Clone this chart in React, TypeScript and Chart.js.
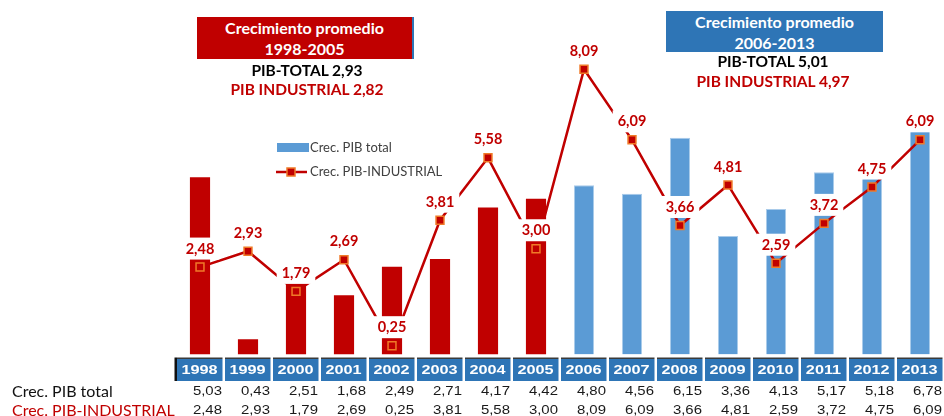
import React, { useEffect, useRef } from 'react';
import { Chart, registerables } from 'chart.js';

Chart.register(...registerables);

const years = ['1998', '1999', '2000', '2001', '2002', '2003', '2004', '2005', '2006', '2007', '2008', '2009', '2010', '2011', '2012', '2013'];
const pibTotal = [5.03, 0.43, 2.51, 1.68, 2.49, 2.71, 4.17, 4.42, 4.8, 4.56, 6.15, 3.36, 4.13, 5.17, 5.18, 6.78];
const pibIndustrial = [2.48, 2.93, 1.79, 2.69, 0.25, 3.81, 5.58, 3.0, 8.09, 6.09, 3.66, 4.81, 2.59, 3.72, 4.75, 6.09];
const seriesNames = ['Crec. PIB total', 'Crec. PIB-INDUSTRIAL'];
const periodRanges = ['1998-2005', '2006-2013'];
const periodTotal = ['2,93', '5,01'];
const periodIndustrial = ['2,82', '4,97'];
const firstBluePeriodIndex = 8;

const RED = '#C00000';
const BLUE = '#5B9BD5';
const AXIS_BLUE = '#2E75B6';
const ORANGE = '#F07A28';

const fmt = (v: number) => v.toFixed(2).replace('.', ',');

const overlayPlugin = {
  id: 'overlay',
  afterDatasetsDraw(chart: any) {
    const ctx = chart.ctx as CanvasRenderingContext2D;
    const meta = chart.getDatasetMeta(1);
    ctx.save();
    ctx.font = 'bold 14.5px Lato';
    ctx.textAlign = 'center';
    ctx.textBaseline = 'middle';
    meta.data.forEach((pt: any, i: number) => {
      const txt = fmt(pibIndustrial[i]);
      const w = ctx.measureText(txt).width + 10;
      const cy = pt.y - 18.5;
      ctx.fillStyle = '#ffffff';
      ctx.fillRect(pt.x - w / 2, cy - 11, w, 22);
      ctx.fillStyle = RED;
      ctx.fillText(txt, pt.x, cy + 0.5);
    });
    ctx.restore();
  },
  afterDraw(chart: any) {
    const ctx = chart.ctx as CanvasRenderingContext2D;
    const xs = chart.scales.x;
    ctx.save();
    // category axis boxes
    years.forEach((y, i) => {
      const cx = xs.getPixelForValue(i);
      const l = cx - 23;
      ctx.fillStyle = '#3a3a3a';
      ctx.fillRect(l, 357.5, 45.5, 1.5);
      ctx.fillStyle = AXIS_BLUE;
      ctx.fillRect(l, 359, 45.5, 22);
      ctx.save();
      ctx.translate(cx - 0.5, 370.5);
      ctx.scale(1.25, 1);
      ctx.font = 'bold 13px "Liberation Sans", Arial';
      ctx.fillStyle = '#ffffff';
      ctx.textAlign = 'center';
      ctx.textBaseline = 'middle';
      ctx.fillText(y, 0, 0);
      ctx.restore();
      if (i === 0) {
        ctx.fillStyle = '#111111';
        ctx.fillRect(l - 2.5, 357.5, 2.5, 23.5);
      }
    });
    // data table
    const rows = [pibTotal, pibIndustrial];
    const rowY = [391.5, 411];
    const rowColors = ['#111111', RED];
    rows.forEach((vals, r) => {
      ctx.font = '16px Lato';
      ctx.fillStyle = rowColors[r];
      ctx.textAlign = 'left';
      ctx.textBaseline = 'middle';
      ctx.fillText(seriesNames[r], 12, rowY[r]);
      vals.forEach((v, i) => {
        const cx = xs.getPixelForValue(i);
        ctx.save();
        ctx.translate(cx + 22, rowY[r] - 0.5);
        ctx.scale(1.15, 1);
        ctx.font = '13px "Liberation Sans", Arial';
        ctx.fillStyle = '#1a1a1a';
        ctx.textAlign = 'right';
        ctx.textBaseline = 'middle';
        ctx.fillText(fmt(v), 0, 0);
        ctx.restore();
      });
    });
    // legend
    ctx.fillStyle = BLUE;
    ctx.fillRect(277, 143, 32, 9);
    ctx.strokeStyle = RED;
    ctx.lineWidth = 2.5;
    ctx.beginPath();
    ctx.moveTo(276, 172);
    ctx.lineTo(307, 172);
    ctx.stroke();
    ctx.fillStyle = RED;
    ctx.fillRect(287, 168, 8, 8);
    ctx.strokeStyle = ORANGE;
    ctx.lineWidth = 1.5;
    ctx.strokeRect(287, 168, 8, 8);
    ctx.font = '13px Lato';
    ctx.fillStyle = '#404040';
    ctx.textAlign = 'left';
    ctx.textBaseline = 'middle';
    ctx.fillText(seriesNames[0], 310, 148);
    ctx.fillText(seriesNames[1], 310, 172);
    ctx.restore();
  },
};

export default function App() {
  const canvasRef = useRef<HTMLCanvasElement | null>(null);

  useEffect(() => {
    if (!canvasRef.current) return;
    const chart = new Chart(canvasRef.current, {
      type: 'bar',
      data: {
        labels: years,
        datasets: [
          {
            type: 'bar',
            label: seriesNames[0],
            data: pibTotal,
            order: 1,
            backgroundColor: years.map((_, i) => (i < firstBluePeriodIndex ? RED : BLUE)),
            borderColor: years.map((_, i) => (i < firstBluePeriodIndex ? RED : '#A9CBEA')),
            borderWidth: years.map((_, i) => (i < firstBluePeriodIndex ? 0 : 1)),
            barPercentage: 0.42,
            categoryPercentage: 1,
          } as any,
          {
            type: 'line',
            label: seriesNames[1],
            data: pibIndustrial,
            order: 0,
            borderColor: RED,
            borderWidth: 2.5,
            pointStyle: 'rect',
            pointRadius: 5.6,
            pointBackgroundColor: RED,
            pointBorderColor: ORANGE,
            pointBorderWidth: 1.5,
            tension: 0,
          } as any,
        ],
      },
      options: {
        responsive: false,
        animation: false,
        layout: { autoPadding: false, padding: { left: 176, right: 0, top: 2, bottom: 61.5 } },
        plugins: { legend: { display: false }, tooltip: { enabled: false } },
        scales: {
          x: { display: false, offset: true },
          y: { display: false, min: 0, max: 10 },
        },
      },
      plugins: [overlayPlugin],
    });
    return () => chart.destroy();
  }, []);

  const boxText: React.CSSProperties = {
    position: 'absolute',
    color: '#ffffff',
    fontFamily: 'Lato, sans-serif',
    fontWeight: 700,
    fontSize: 16,
    textAlign: 'center',
    lineHeight: '21px',
    whiteSpace: 'nowrap',
  };
  const subText: React.CSSProperties = {
    position: 'absolute',
    fontFamily: 'Lato, sans-serif',
    fontWeight: 700,
    fontSize: 15.5,
    textAlign: 'center',
    lineHeight: '19px',
    whiteSpace: 'nowrap',
  };

  return (
    <div style={{ position: 'absolute', left: 0, top: 0, width: 944, height: 416, background: '#ffffff', overflow: 'hidden' }}>
      <canvas ref={canvasRef} width={944} height={416} style={{ position: 'absolute', left: 0, top: 0, width: 944, height: 416 }} />
      <div style={{ ...boxText, left: 197, top: 17, width: 215, height: 42, background: RED }}>
        <div>Crecimiento promedio</div>
        <div>{periodRanges[0]}</div>
      </div>
      <div style={{ position: 'absolute', left: 412, top: 17, width: 2, height: 42, background: AXIS_BLUE }} />
      <div style={{ ...subText, left: 207, top: 61, width: 200, color: '#000000' }}>PIB-TOTAL {periodTotal[0]}</div>
      <div style={{ ...subText, left: 207, top: 80, width: 200, color: RED }}>PIB INDUSTRIAL {periodIndustrial[0]}</div>
      <div style={{ ...boxText, left: 666, top: 11, width: 217, height: 41, background: AXIS_BLUE }}>
        <div>Crecimiento promedio</div>
        <div>{periodRanges[1]}</div>
      </div>
      <div style={{ ...subText, left: 673, top: 52, width: 200, color: '#000000' }}>PIB-TOTAL {periodTotal[1]}</div>
      <div style={{ ...subText, left: 673, top: 72, width: 200, color: RED }}>PIB INDUSTRIAL {periodIndustrial[1]}</div>
    </div>
  );
}
